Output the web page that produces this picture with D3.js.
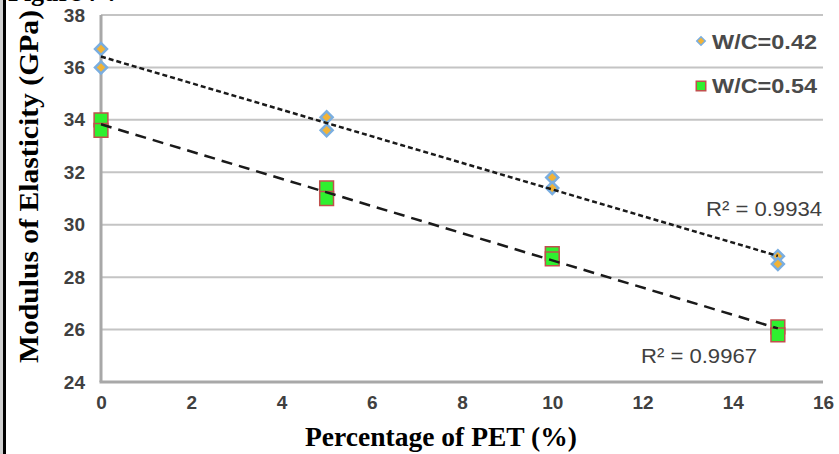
<!DOCTYPE html>
<html>
<head>
<meta charset="utf-8">
<script src="https://cdn.jsdelivr.net/npm/d3@7"></script>
<style>
  body { margin: 0; background: #fff; }
  svg { display: block; }
</style>
</head>
<body>
<svg id="chart" width="839" height="454"></svg>
<script>
// PET percentage for each measured point
var pet = [0, 0, 5, 5, 10, 10, 15, 15];
// modulus of elasticity, two samples per mix
var wc042 = [36.7, 36.0, 34.1, 33.6, 31.8, 31.4, 28.8, 28.5];
var wc054 = [34.0, 33.6, 31.4, 31.0, 28.9, 28.7, 26.1, 25.8];
var seriesNames = ["W/C=0.42", "W/C=0.54"];
var r2Labels = ["R² = 0.9934", "R² = 0.9967"];
var xTicks = [0, 2, 4, 6, 8, 10, 12, 14, 16];
var yTicks = [24, 26, 28, 30, 32, 34, 36, 38];

var svg = d3.select("#chart");

var x = d3.scaleLinear().domain([0, 16]).range([101, 823]);
var y = d3.scaleLinear().domain([24, 38]).range([382, 15]);

// page frame bits from the scanned figure
svg.append("rect").attr("x", 0).attr("y", 0).attr("width", 3).attr("height", 454).attr("fill", "#d0d0d0");
svg.append("rect").attr("x", 3).attr("y", 0).attr("width", 3).attr("height", 454).attr("fill", "#000");
svg.append("text")
    .attr("x", 8).attr("y", 1)
    .attr("font-family", "Liberation Serif").attr("font-weight", "bold")
    .attr("font-size", 26)
    .text("Figure 7 :");

// gridlines
svg.append("g")
    .selectAll("line")
    .data(yTicks.filter(d => d > 24))
    .join("line")
    .attr("x1", x(0)).attr("x2", x(16))
    .attr("y1", d => y(d)).attr("y2", d => y(d))
    .attr("stroke", "#c4c4c4")
    .attr("stroke-width", 2);

// axis lines
svg.append("line")
    .attr("x1", x(0)).attr("x2", x(0)).attr("y1", y(38)).attr("y2", y(24))
    .attr("stroke", "#a8a8a8").attr("stroke-width", 3);
svg.append("line")
    .attr("x1", x(0) - 1.5).attr("x2", x(16)).attr("y1", y(24)).attr("y2", y(24))
    .attr("stroke", "#a8a8a8").attr("stroke-width", 3);

// tick labels
var yAxis = d3.axisLeft(y).tickValues(yTicks).tickSize(0).tickPadding(16);
svg.append("g").attr("transform", "translate(" + x(0) + ",0)").call(yAxis)
    .call(g => g.select(".domain").remove())
    .selectAll("text")
    .attr("font-family", "Liberation Sans").attr("font-size", 19)
    .attr("font-weight", "bold").attr("fill", "#404040");

var xAxis = d3.axisBottom(x).tickValues(xTicks).tickSize(0).tickPadding(14);
svg.append("g").attr("transform", "translate(0," + y(24) + ")").call(xAxis)
    .call(g => g.select(".domain").remove())
    .selectAll("text")
    .attr("font-family", "Liberation Sans").attr("font-size", 19)
    .attr("font-weight", "bold").attr("fill", "#404040");

// axis titles
svg.append("text")
    .attr("transform", "translate(38," + ((10 + 363) / 2) + ") rotate(-90)")
    .attr("text-anchor", "middle")
    .attr("font-family", "Liberation Serif").attr("font-weight", "bold")
    .attr("font-size", 28)
    .attr("textLength", 353).attr("lengthAdjust", "spacingAndGlyphs")
    .text("Modulus of Elasticity (GPa)");

svg.append("text")
    .attr("x", 441).attr("y", 446)
    .attr("text-anchor", "middle")
    .attr("font-family", "Liberation Serif").attr("font-weight", "bold")
    .attr("font-size", 27)
    .attr("textLength", 272).attr("lengthAdjust", "spacingAndGlyphs")
    .text("Percentage of PET (%)");

// markers
var diamond = d3.symbol().type(d3.symbolSquare).size(72);
var square = d3.symbol().type(d3.symbolSquare).size(190);

svg.append("g")
    .selectAll("path")
    .data(pet.map((p, i) => [p, wc042[i]]))
    .join("path")
    .attr("d", diamond)
    .attr("transform", d => "translate(" + x(d[0]) + "," + y(d[1]) + ") rotate(45)")
    .attr("fill", "#f2b336")
    .attr("stroke", "#7aaee0")
    .attr("stroke-width", 2.5);

svg.append("g")
    .selectAll("path")
    .data(pet.map((p, i) => [p, wc054[i]]))
    .join("path")
    .attr("d", square)
    .attr("transform", d => "translate(" + x(d[0]) + "," + y(d[1]) + ")")
    .attr("fill", "#2ff02f")
    .attr("stroke", "#c0504d")
    .attr("stroke-width", 1.5);

// linear trendlines (least squares)
function fit(xs, ys) {
    var mx = d3.mean(xs), my = d3.mean(ys);
    var num = d3.sum(xs, (v, i) => (v - mx) * (ys[i] - my));
    var den = d3.sum(xs, v => (v - mx) * (v - mx));
    var b = num / den;
    return v => my + b * (v - mx);
}

var f1 = fit(pet, wc042), f2 = fit(pet, wc054);
svg.append("line")
    .attr("x1", x(0)).attr("y1", y(f1(0))).attr("x2", x(15)).attr("y2", y(f1(15)))
    .attr("stroke", "#1a1a1a").attr("stroke-width", 2.5)
    .attr("stroke-dasharray", "5,3");
svg.append("line")
    .attr("x1", x(0)).attr("y1", y(f2(0))).attr("x2", x(15)).attr("y2", y(f2(15)))
    .attr("stroke", "#1a1a1a").attr("stroke-width", 2.5)
    .attr("stroke-dasharray", "11,7");

// R² labels
svg.append("text")
    .attr("x", 822).attr("y", 216).attr("text-anchor", "end")
    .attr("font-family", "Liberation Sans").attr("font-size", 21)
    .attr("fill", "#404040")
    .attr("textLength", 116).attr("lengthAdjust", "spacingAndGlyphs")
    .text(r2Labels[0]);
svg.append("text")
    .attr("x", 757).attr("y", 363).attr("text-anchor", "end")
    .attr("font-family", "Liberation Sans").attr("font-size", 21)
    .attr("fill", "#404040")
    .attr("textLength", 116).attr("lengthAdjust", "spacingAndGlyphs")
    .text(r2Labels[1]);

// legend
var leg = svg.append("g");
leg.append("path")
    .attr("d", d3.symbol().type(d3.symbolSquare).size(36))
    .attr("transform", "translate(701,41) rotate(45)")
    .attr("fill", "#f2b336").attr("stroke", "#7aaee0").attr("stroke-width", 1.5);
leg.append("path")
    .attr("d", d3.symbol().type(d3.symbolSquare).size(90))
    .attr("transform", "translate(701,86)")
    .attr("fill", "#2ff02f").attr("stroke", "#c0504d").attr("stroke-width", 1.5);
leg.selectAll("text")
    .data(seriesNames)
    .join("text")
    .attr("x", 712).attr("y", (d, i) => 49 + i * 44)
    .attr("font-family", "Liberation Sans").attr("font-size", 21)
    .attr("font-weight", "bold").attr("fill", "#4a4a4a")
    .attr("textLength", 105).attr("lengthAdjust", "spacingAndGlyphs")
    .text(d => d);
</script>
</body>
</html>
